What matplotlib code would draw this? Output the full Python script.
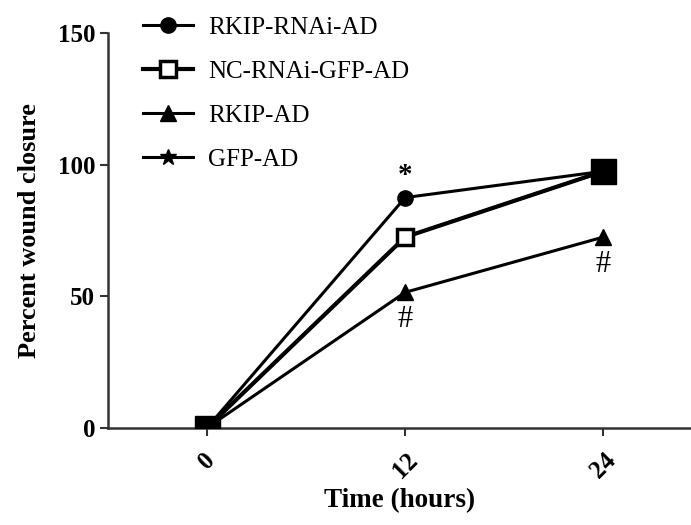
import matplotlib.pyplot as plt
import numpy as np

# Data
time_hours = np.array([0, 12, 24])
rkip_rnai = np.array([0, 87.5, 97.5])
nc_rnai_gfp = np.array([0, 72.5, 97.5])
rkip_ad = np.array([0, 51.5, 72.5])
gfp_ad = np.array([0, 72.5, 97.5])
series_labels = ["RKIP-RNAi-AD", "NC-RNAi-GFP-AD", "RKIP-AD", "GFP-AD"]
y_ticks = [0, 50, 100, 150]

plt.rcParams['font.family'] = ['Liberation Serif', 'DejaVu Serif']

fig = plt.figure(figsize=(6.91, 5.25), dpi=100)
ax = fig.add_axes([0.156, 0.185, 0.844, 0.752])

lw = 2.2
ax.plot(time_hours, gfp_ad, color='black', lw=lw, marker='*', markersize=12,
        label=series_labels[3], zorder=2)
ax.plot(time_hours, rkip_ad, color='black', lw=lw, marker='^', markersize=12,
        label=series_labels[2], zorder=3)
ax.plot(time_hours, nc_rnai_gfp, color='black', lw=lw + 0.8, marker='s', markersize=12,
        markerfacecolor='white', markeredgewidth=2.5, label=series_labels[1], zorder=4)
ax.plot(time_hours, rkip_rnai, color='black', lw=lw, marker='o', markersize=11,
        label=series_labels[0], zorder=5)
# overlapping points at 0 h and 24 h show as a big filled square
ax.plot(time_hours[[0, 2]], nc_rnai_gfp[[0, 2]], linestyle='none', marker='s',
        markersize=18, color='black', zorder=6)

# significance marks
ax.annotate('*', (time_hours[1], rkip_rnai[1]), xytext=(0, 6), textcoords='offset points',
            ha='center', va='bottom', fontsize=21, fontweight='bold')
ax.annotate('#', (time_hours[1], rkip_ad[1]), xytext=(0, -9), textcoords='offset points',
            ha='center', va='top', fontsize=22)
ax.annotate('#', (time_hours[2], rkip_ad[2]), xytext=(0, -9), textcoords='offset points',
            ha='center', va='top', fontsize=22)

ax.set_xlim(-6, 29.3)
ax.set_ylim(0, 150)
ax.set_xticks(time_hours)
ax.set_xticklabels([str(t) for t in time_hours], rotation=45, ha='center',
                   fontsize=18, fontweight='bold')
ax.set_yticks(y_ticks)
ax.set_yticklabels([str(v) for v in y_ticks], fontsize=18, fontweight='bold')
ax.tick_params(axis='both', length=6, width=1.5, color='#333333', pad=3)
ax.tick_params(axis='x', pad=9)

for side in ['top', 'right']:
    ax.spines[side].set_visible(False)
for side in ['left', 'bottom']:
    ax.spines[side].set_linewidth(1.8)
    ax.spines[side].set_color('#333333')

ax.set_xlabel("Time (hours)", fontsize=19.5, fontweight='bold', labelpad=4)
ax.set_ylabel("Percent wound closure", fontsize=19, fontweight='bold', labelpad=12)

handles, labels = ax.get_legend_handles_labels()
order = [3, 2, 1, 0]
leg = ax.legend([handles[i] for i in order], [labels[i] for i in order],
                loc='upper left', bbox_to_anchor=(143 / 691, 1 - 16 / 525),
                bbox_transform=fig.transFigure, frameon=False, borderpad=0,
                borderaxespad=0, fontsize=18, handlelength=2.0,
                handletextpad=0.6, labelspacing=0.86)

fig.savefig("out.png", dpi=100)
